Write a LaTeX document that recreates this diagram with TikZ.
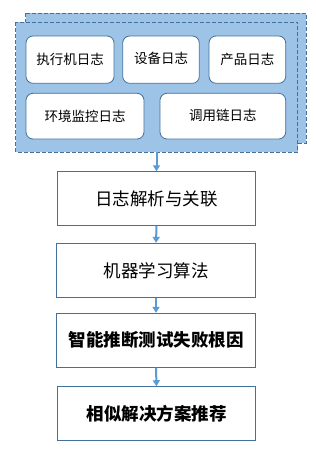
\documentclass[tikz,border=0pt]{standalone}
\usepackage{fontspec}
\setmainfont{Noto Sans CJK SC}
\usetikzlibrary{arrows.meta}
\definecolor{panelfill}{HTML}{9DC3E6}
\definecolor{panelline}{HTML}{41719C}
\definecolor{arrowblue}{HTML}{5B9BD5}
\begin{document}
\begin{tikzpicture}[x=1pt,y=-1pt,
  panel/.style={draw=panelline,fill=panelfill,dash pattern=on 4pt off 2pt,line width=0.8pt},
  logbox/.style={draw=panelline,fill=white,rounded corners=7pt,line width=0.8pt},
  stepbox/.style={draw=panelline,fill=white,line width=0.9pt},
  flow/.style={arrowblue,line width=2pt,-{Triangle[width=7pt,length=6pt]}},
  lbl/.style={font=\fontsize{13.5}{15}\selectfont},
  slbl/.style={font=\fontsize{17.5}{20}\selectfont},
  blbl/.style={font=\fontsize{17.5}{20}\selectfont\bfseries}]
\useasboundingbox (0,0) rectangle (316,458);
\fill[white] (0,0) rectangle (316,458);
\draw[panel] (25.7,13.3) rectangle (306,143);
\draw[panel] (15.7,22.3) rectangle (297.7,152.3);
\coordinate (pan) at (156.5,152.3);
\draw[logbox] (26,36) rectangle (114,83.3);
\node[lbl] (b1) at (70,59.7) {执行机日志};
\draw[logbox] (122.7,36) rectangle (199.3,83.3);
\node[lbl] (b2) at (161,58.5) {设备日志};
\draw[logbox] (209,36) rectangle (285.7,83.3);
\node[lbl] (b3) at (247.3,59.7) {产品日志};
\draw[logbox] (26,93.3) rectangle (144,139);
\node[lbl] (b4) at (85,116.2) {环境监控日志};
\draw[logbox] (160,93.3) rectangle (285.7,139);
\node[lbl] (b5) at (222.8,115.5) {调用链日志};
\node[stepbox,minimum width=198.4pt,minimum height=53.6pt,slbl] (s1) at (156.5,198.5) {日志解析与关联};
\node[stepbox,minimum width=199.4pt,minimum height=54pt,slbl] (s2) at (156,270.3) {机器学习算法};
\node[stepbox,minimum width=199.4pt,minimum height=54pt,blbl] (s3) at (156,340.3) {智能推断测试失败根因};
\node[stepbox,minimum width=198.4pt,minimum height=53.3pt,blbl] (s4) at (156.5,413.3) {相似解决方案推荐};
\draw[flow] (pan) -- (s1.north);
\draw[flow] (s1.south) -- (s2.north);
\draw[flow] (s2.south) -- (s3.north);
\draw[flow] (s3.south) -- (s4.north);
\end{tikzpicture}
\end{document}
